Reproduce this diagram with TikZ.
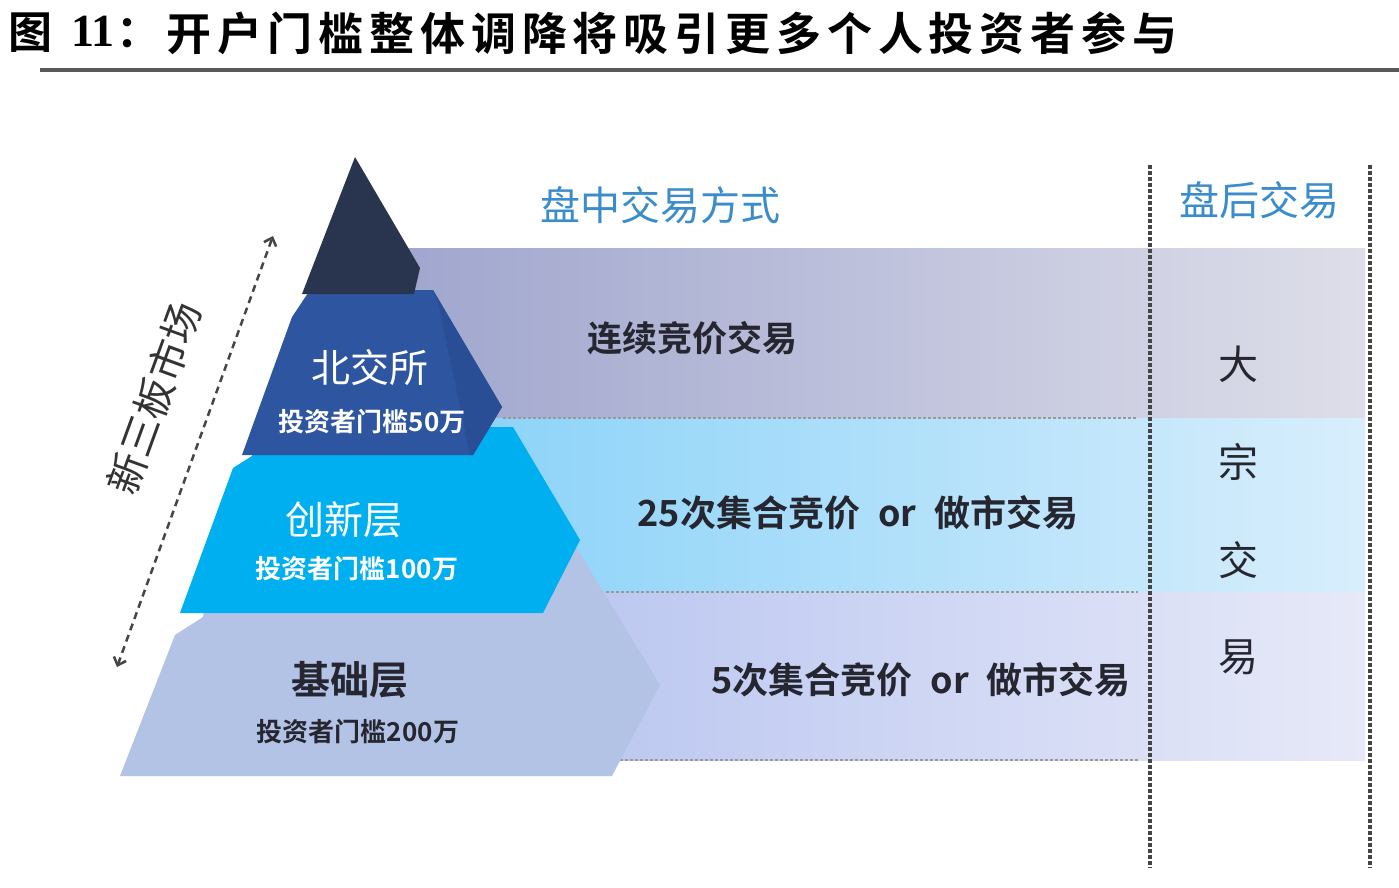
\documentclass[tikz,border=0pt]{standalone}
\usepackage{fontspec}
\usetikzlibrary{arrows.meta}
\newfontfamily\cjk{Noto Sans CJK SC}[BoldFont={Noto Sans CJK SC Bold}]
\newfontfamily\cjkt{Noto Sans CJK SC Bold}[LetterSpace=13]
\newfontfamily\tnr{Liberation Serif}
\newcommand\fsz[1]{\fontsize{#1}{#1}\selectfont}
\definecolor{tipc}{HTML}{29354F}
\definecolor{bjc}{HTML}{2E56A0}
\definecolor{bjside}{HTML}{2A4E95}
\definecolor{cxc}{HTML}{00AFEF}
\definecolor{jcc}{HTML}{B3C3E6}
\definecolor{bandAl}{HTML}{A0A6CE}
\definecolor{bandAr}{HTML}{DEDEE9}
\definecolor{bandBl}{HTML}{86D1F8}
\definecolor{bandBr}{HTML}{D8EEFC}
\definecolor{bandCl}{HTML}{B2C0EF}
\definecolor{bandCr}{HTML}{E7E9F8}
\definecolor{hdrc}{HTML}{3A8CCB}
\definecolor{txtc}{HTML}{262630}
\definecolor{dotc}{HTML}{454545}
\begin{document}
\begin{tikzpicture}[x=1pt,y=-1pt,
  lbl/.style={inner sep=0pt, text=txtc},
  hdr/.style={inner sep=0pt, text=hdrc, font=\cjk\fsz{40}},
  bandtxt/.style={inner sep=0pt, text=txtc, font=\cjk\bfseries\fsz{36}},
  sidetxt/.style={inner sep=0pt, text=txtc, font=\cjk\fsz{40}},
  tiername/.style={inner sep=0pt, font=\cjk\fsz{39}},
  tiersub/.style={inner sep=0pt, font=\cjk\bfseries\fsz{26}},
  sep/.style={draw=gray!80, line width=1.3pt, dash pattern=on 3pt off 2pt},
  coldiv/.style={draw=dotc, line width=3.5pt, dash pattern=on 4pt off 2pt},
  lvl/.style={draw=dotc, line width=2.5pt, dash pattern=on 7pt off 5pt,
    {Straight Barb[length=7pt,width=13pt,line width=2.5pt]}-{Straight Barb[length=7pt,width=13pt,line width=2.5pt]}}
]
\useasboundingbox (0,0) rectangle (1399,888);
\fill[white] (0,0) rectangle (1399,888);

% title
\node[lbl, font=\cjk\bfseries\fsz{44}, text=black] (tfig) at (31,33) {图};
\node[lbl, font=\tnr\bfseries\fsz{46}, text=black] (tnum) at (93,31) {11};
\node[lbl, font=\cjk\bfseries\fsz{44}, text=black, anchor=west] (tcolon) at (116,33) {：};
\node[lbl, font=\cjkt\fsz{45}, text=black, anchor=west] (ttext) at (166,33) {开户门槛整体调降将吸引更多个人投资者参与};
\draw[line width=4pt, draw=black!65] (40,70) -- (1399,70);

% bands
\shade[left color=bandAl, right color=bandAr] (400,248) rectangle (1365,418);
\shade[left color=bandBl, right color=bandBr] (400,418) rectangle (1365,592);
\shade[left color=bandCl, right color=bandCr] (400,592) rectangle (1365,760);
\draw[sep] (503,418) -- (1138,418);
\draw[sep] (606,592) -- (1138,592);
\draw[sep] (620,760) -- (1138,760);

% pyramid
\fill[jcc] (120,776) -- (175,635) -- (203,617) -- (215,545) -- (575,545) -- (660,685) -- (612,776) -- cycle;
\fill[cxc] (180,613) -- (233,468) -- (252,456) -- (262,435) -- (266,427) -- (513,427) -- (580,540) -- (543,613) -- cycle;
\fill[bjc] (242,455) -- (292,317) -- (310,290) -- (433,290) -- (502,407) -- (473,455) -- cycle;
\fill[bjside] (433,290) -- (502,407) -- (473,455) -- (470,455) -- (438,302) -- cycle;
\fill[tipc] (302,294) -- (355,157) -- (420,268) -- (414,294) -- cycle;

% column dividers
\coordinate (divAtop) at (1150,165);
\coordinate (divAbot) at (1150,868);
\coordinate (divBtop) at (1370,165);
\coordinate (divBbot) at (1370,868);
\draw[coldiv] (divAtop) -- (divAbot);
\draw[coldiv] (divBtop) -- (divBbot);

% headers
\node[hdr] (hmid) at (660,205) {盘中交易方式};
\node[hdr] (hpost) at (1259,200) {盘后交易};

% band texts
\node[bandtxt, font=\cjk\bfseries\fsz{35}] (cont) at (692,338) {连续竞价交易};
\node[bandtxt] (call25) at (858,513) {25次集合竞价\hspace{0.5em}or\hspace{0.5em}做市交易};
\node[bandtxt] (call5) at (921,680) {5次集合竞价\hspace{0.5em}or\hspace{0.5em}做市交易};

% block trade
\node[sidetxt] (bt1) at (1238,364) {大};
\node[sidetxt] (bt2) at (1238,462) {宗};
\node[sidetxt] (bt3) at (1238,560) {交};
\node[sidetxt] (bt4) at (1238,657) {易};

% tier labels
\node[tiername, text=white] (bjs) at (370,368) {北交所};
\node[tiersub, text=white] (bjsub) at (372,422) {投资者门槛50万};
\node[tiername, text=white] (cxl) at (344,520) {创新层};
\node[tiersub, text=white] (cxsub) at (357,569) {投资者门槛100万};
\node[tiername, text=txtc, font=\cjk\bfseries\fsz{39}] (jcl) at (350,680) {基础层};
\node[tiersub, text=txtc] (jcsub) at (358,732) {投资者门槛200万};

% level arrow
\coordinate (arrTop) at (273,236);
\coordinate (arrBot) at (117,667);
\draw[lvl] (arrBot) -- (arrTop);
\node[lbl, font=\cjk\fsz{40}, text=black!80, rotate=70] (xsb) at (154,398) {新三板市场};
\end{tikzpicture}
\end{document}
